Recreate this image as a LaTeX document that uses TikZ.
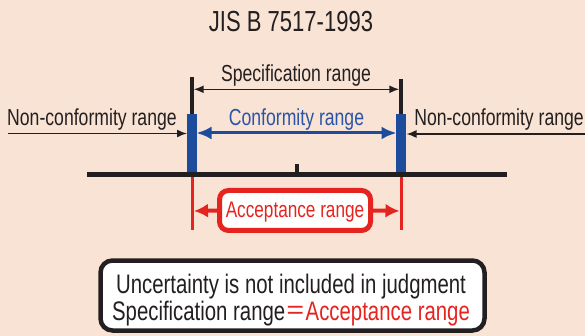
\documentclass[tikz,border=0pt]{standalone}
\usepackage{fontspec}
\setmainfont{Liberation Sans}[FakeStretch=0.76]
\newfontfamily\cjkfont{Noto Sans CJK JP}[FakeStretch=0.76]
\usetikzlibrary{arrows.meta}
\definecolor{bg}{HTML}{F8E3D5}
\definecolor{myblue}{HTML}{1E4C9C}
\definecolor{txtblue}{HTML}{2A55A6}
\definecolor{myred}{HTML}{E52420}
\definecolor{txt}{HTML}{231F20}
\begin{document}
\begin{tikzpicture}[x=1pt,y=-1pt,
  lbl/.style={font=\fontsize{23.2}{26}\selectfont, inner sep=0pt, text=txt},
  titlefont/.style={font=\fontsize{29}{32}\selectfont, inner sep=0pt, text=txt},
  boxtext/.style={font=\fontsize{26.8}{29}\selectfont, inner sep=0pt, text=txt},
  thinarrow/.style={line width=1.5pt, draw=txt, -{Latex[length=10pt,width=8pt]}},
  bluearrow/.style={line width=3pt, draw=myblue, {Latex[length=15pt,width=13pt]}-{Latex[length=15pt,width=13pt]}},
  redarrow/.style={line width=4pt, draw=myred, -{Latex[length=14pt,width=14pt]}},
  limitline/.style={line width=3.5pt, draw=txt},
  bluebar/.style={line width=9.5pt, draw=myblue},
  redline/.style={line width=3pt, draw=myred},
]
\fill[bg] (0,0) rectangle (585,336);
\useasboundingbox (0,0) rectangle (585,336);

% named points
\coordinate (LT) at (192,77);
\coordinate (LB) at (192,174);
\coordinate (RT) at (401,79);
\coordinate (RB) at (401,174);
\coordinate (LBarT) at (192,114);
\coordinate (LBarB) at (192,175);
\coordinate (RBarT) at (401,114);
\coordinate (RBarB) at (401,175);
\coordinate (AxisL) at (87,174.7);
\coordinate (AxisR) at (507,174.7);
\coordinate (TickT) at (297,164);
\coordinate (TickB) at (297,174);
\coordinate (LRedT) at (192,176);
\coordinate (LRedB) at (192,230);
\coordinate (RRedT) at (401,176);
\coordinate (RRedB) at (401,230);
\coordinate (SpecL) at (193.7,89.3);
\coordinate (SpecR) at (399.3,89.3);
\coordinate (NcLfrom) at (8,133.5);
\coordinate (NcLto) at (187,133.5);
\coordinate (NcRfrom) at (585,134);
\coordinate (NcRto) at (406.5,134);
\coordinate (ConfL) at (196.5,133);
\coordinate (ConfR) at (396.5,133);
\coordinate (AccLtip) at (194,211);
\coordinate (AccRtip) at (399.5,211);

% title
\node[titlefont, anchor=base] (title) at (291,31.7) {JIS B 7517-1993};

% limit lines
\draw[limitline] (LT) -- (LB);
\draw[limitline] (RT) -- (RB);

% red lines
\draw[redline] (LRedT) -- (LRedB);
\draw[redline] (RRedT) -- (RRedB);

% blue bars
\draw[bluebar] (LBarT) -- (LBarB);
\draw[bluebar] (RBarT) -- (RBarB);

% axis
\draw[line width=4.5pt, draw=txt] (AxisL) -- (AxisR);
\draw[line width=3.5pt, draw=txt] (TickT) -- (TickB);

% specification range
\node[lbl, anchor=base] (speclbl) at (296,81.5) {Specification range};
\draw[thinarrow, {Latex[length=10pt,width=8pt]}-{Latex[length=10pt,width=8pt]}] (SpecL) -- (SpecR);

% conformity
\node[lbl, anchor=base, text=txtblue] (conflbl) at (296.5,126) {Conformity range};
\draw[bluearrow] (ConfL) -- (ConfR);

% non-conformity
\node[lbl, anchor=base west] (nclbl) at (7,126) {Non-conformity range};
\node[lbl, anchor=base east] (ncrlbl) at (584,126) {Non-conformity range};
\draw[thinarrow] (NcLfrom) -- (NcLto);
\draw[thinarrow] (NcRfrom) -- (NcRto);

% acceptance
\node[draw=myred, line width=5pt, fill=white, rounded corners=9pt,
      minimum width=151pt, minimum height=40pt, inner sep=0pt] (accbox) at (295,210.5) {};
\node[lbl, font=\fontsize{22.6}{25}\selectfont, text=myred, anchor=base] (acclbl) at (295,218) {Acceptance range};
\draw[redarrow] (accbox.west) -- (AccLtip);
\draw[redarrow] (accbox.east) -- (AccRtip);

% bottom box
\node[draw=txt, line width=4.5pt, fill=white, rounded corners=12pt,
      minimum width=384pt, minimum height=70pt, inner sep=0pt] (judgebox) at (292.5,295.5) {};
\node[boxtext, anchor=base] (line1) at (291,293) {Uncertainty is not included in judgment};
\node[boxtext, anchor=base] (line2) at (291,320) {Specification range\textcolor{myred}{{\cjkfont ＝}Acceptance range}};
\end{tikzpicture}
\end{document}
